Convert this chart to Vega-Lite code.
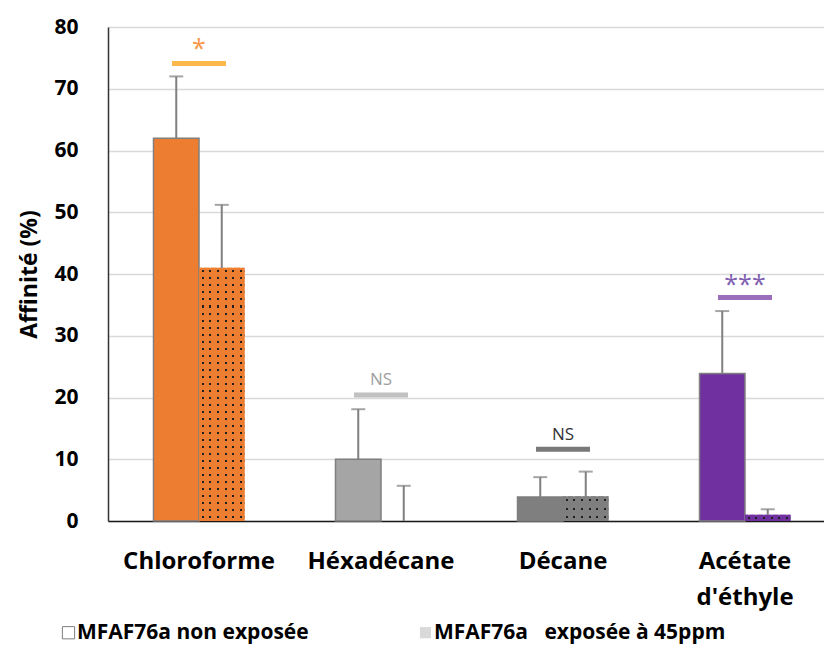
{
  "$schema": "https://vega.github.io/schema/vega-lite/v6.json",
  "width": 716,
  "height": 494,
  "autosize": {"type": "none"},
  "padding": {"left": 108, "top": 27, "right": 0, "bottom": 125},
  "background": "white",
  "config": {
    "view": {"stroke": null},
    "font": "Open Sans"
  },
  "datasets": {
    "barres": [
      {"solvant": "Chloroforme", "serie": "MFAF76a non exposée", "affinite": 62, "haut": 72},
      {"solvant": "Chloroforme", "serie": "MFAF76a  exposée à 45ppm", "affinite": 41, "haut": 51.2},
      {"solvant": "Héxadécane", "serie": "MFAF76a non exposée", "affinite": 10, "haut": 18.1},
      {"solvant": "Héxadécane", "serie": "MFAF76a  exposée à 45ppm", "affinite": 0, "haut": 5.7},
      {"solvant": "Décane", "serie": "MFAF76a non exposée", "affinite": 3.9, "haut": 7.1},
      {"solvant": "Décane", "serie": "MFAF76a  exposée à 45ppm", "affinite": 4, "haut": 8},
      {"solvant": "Acétate d'éthyle", "serie": "MFAF76a non exposée", "affinite": 23.9, "haut": 34},
      {"solvant": "Acétate d'éthyle", "serie": "MFAF76a  exposée à 45ppm", "affinite": 1, "haut": 1.9}
    ],
    "signif": [
      {"solvant": "Chloroforme", "niveau": 74.1, "texte": "*", "ytexte": 76.4},
      {"solvant": "Héxadécane", "niveau": 20.4, "texte": "NS", "ytexte": 22.9},
      {"solvant": "Décane", "niveau": 11.6, "texte": "NS", "ytexte": 14},
      {"solvant": "Acétate d'éthyle", "niveau": 36.2, "texte": "***", "ytexte": 38.2}
    ]
  },
  "encoding": {
    "x": {
      "field": "solvant",
      "type": "nominal",
      "scale": {
        "domain": ["Chloroforme", "Héxadécane", "Décane", "Acétate d'éthyle"],
        "range": [0, 728],
        "paddingInner": 0.5,
        "paddingOuter": 0.25
      },
      "axis": {
        "title": null,
        "labelAngle": 0,
        "labelExpr": "split(datum.label, ' ')",
        "labelFont": "Open Sans",
        "labelFontSize": 24,
        "labelFontWeight": "bold",
        "labelColor": "#000000",
        "labelLineHeight": 36,
        "labelPadding": 28,
        "labelBaseline": "top",
        "ticks": false,
        "domain": true,
        "domainColor": "#1a1a1a",
        "domainWidth": 1.5,
        "grid": false
      }
    }
  },
  "layer": [
    {
      "data": {"name": "barres"},
      "transform": [{"filter": "datum.serie === 'MFAF76a non exposée'"}],
      "mark": {"type": "bar", "stroke": "#7f7f7f", "strokeWidth": 1.5},
      "encoding": {
        "xOffset": {"field": "serie", "type": "nominal", "scale": {"domain": ["MFAF76a non exposée", "MFAF76a  exposée à 45ppm"], "paddingInner": 0, "paddingOuter": 0}},
        "y": {
          "field": "affinite",
          "type": "quantitative",
          "scale": {"domain": [0, 80], "nice": false},
          "axis": {
            "values": [0, 10, 20, 30, 40, 50, 60, 70, 80],
            "title": "Affinité (%)",
            "titleFont": "Open Sans",
            "titleFontSize": 23,
            "titleFontWeight": "bold",
            "titleColor": "#000000",
            "titlePadding": 12,
            "labelFont": "Open Sans",
            "labelFontSize": 21,
            "labelFontWeight": "bold",
            "labelColor": "#000000",
            "labelPadding": 30,
            "ticks": false,
            "domain": true,
            "domainColor": "#333333",
            "domainWidth": 1.5,
            "grid": true,
            "gridColor": "#d9d9d9",
            "gridWidth": 1.5
          }
        },
        "color": {
          "field": "solvant",
          "type": "nominal",
          "scale": {"domain": ["Chloroforme", "Héxadécane", "Décane", "Acétate d'éthyle"], "range": ["#ED7D31", "#A5A5A5", "#7F7F7F", "#7030A0"]},
          "legend": null
        }
      }
    },
    {
      "data": {"name": "barres"},
      "transform": [{"filter": "datum.serie !== 'MFAF76a non exposée'"}],
      "mark": {"type": "bar"},
      "encoding": {
        "xOffset": {"field": "serie", "type": "nominal", "scale": {"domain": ["MFAF76a non exposée", "MFAF76a  exposée à 45ppm"], "paddingInner": 0, "paddingOuter": 0}},
        "y": {"field": "affinite", "type": "quantitative"},
        "fill": {
          "condition": [
            {"test": "datum.solvant === 'Chloroforme'", "value": {"gradient": "linear", "x1": 0, "y1": 0, "x2": 0, "y2": 1, "stops": [
              {"offset": 0, "color": "#ED7D31"},
              {"offset": 0.0099, "color": "#ED7D31"}, {"offset": 0.0099, "color": "#202020"}, {"offset": 0.0179, "color": "#202020"}, {"offset": 0.0179, "color": "#ED7D31"},
              {"offset": 0.0377, "color": "#ED7D31"}, {"offset": 0.0377, "color": "#202020"}, {"offset": 0.0457, "color": "#202020"}, {"offset": 0.0457, "color": "#ED7D31"},
              {"offset": 0.0654, "color": "#ED7D31"}, {"offset": 0.0654, "color": "#202020"}, {"offset": 0.0734, "color": "#202020"}, {"offset": 0.0734, "color": "#ED7D31"},
              {"offset": 0.0932, "color": "#ED7D31"}, {"offset": 0.0932, "color": "#202020"}, {"offset": 0.1012, "color": "#202020"}, {"offset": 0.1012, "color": "#ED7D31"},
              {"offset": 0.121, "color": "#ED7D31"}, {"offset": 0.121, "color": "#202020"}, {"offset": 0.129, "color": "#202020"}, {"offset": 0.129, "color": "#ED7D31"},
              {"offset": 0.1488, "color": "#ED7D31"}, {"offset": 0.1488, "color": "#202020"}, {"offset": 0.1568, "color": "#202020"}, {"offset": 0.1568, "color": "#ED7D31"},
              {"offset": 0.1766, "color": "#ED7D31"}, {"offset": 0.1766, "color": "#202020"}, {"offset": 0.1846, "color": "#202020"}, {"offset": 0.1846, "color": "#ED7D31"},
              {"offset": 0.2043, "color": "#ED7D31"}, {"offset": 0.2043, "color": "#202020"}, {"offset": 0.2123, "color": "#202020"}, {"offset": 0.2123, "color": "#ED7D31"},
              {"offset": 0.2321, "color": "#ED7D31"}, {"offset": 0.2321, "color": "#202020"}, {"offset": 0.2401, "color": "#202020"}, {"offset": 0.2401, "color": "#ED7D31"},
              {"offset": 0.2599, "color": "#ED7D31"}, {"offset": 0.2599, "color": "#202020"}, {"offset": 0.2679, "color": "#202020"}, {"offset": 0.2679, "color": "#ED7D31"},
              {"offset": 0.2877, "color": "#ED7D31"}, {"offset": 0.2877, "color": "#202020"}, {"offset": 0.2957, "color": "#202020"}, {"offset": 0.2957, "color": "#ED7D31"},
              {"offset": 0.3154, "color": "#ED7D31"}, {"offset": 0.3154, "color": "#202020"}, {"offset": 0.3234, "color": "#202020"}, {"offset": 0.3234, "color": "#ED7D31"},
              {"offset": 0.3432, "color": "#ED7D31"}, {"offset": 0.3432, "color": "#202020"}, {"offset": 0.3512, "color": "#202020"}, {"offset": 0.3512, "color": "#ED7D31"},
              {"offset": 0.371, "color": "#ED7D31"}, {"offset": 0.371, "color": "#202020"}, {"offset": 0.379, "color": "#202020"}, {"offset": 0.379, "color": "#ED7D31"},
              {"offset": 0.3988, "color": "#ED7D31"}, {"offset": 0.3988, "color": "#202020"}, {"offset": 0.4068, "color": "#202020"}, {"offset": 0.4068, "color": "#ED7D31"},
              {"offset": 0.4266, "color": "#ED7D31"}, {"offset": 0.4266, "color": "#202020"}, {"offset": 0.4346, "color": "#202020"}, {"offset": 0.4346, "color": "#ED7D31"},
              {"offset": 0.4543, "color": "#ED7D31"}, {"offset": 0.4543, "color": "#202020"}, {"offset": 0.4623, "color": "#202020"}, {"offset": 0.4623, "color": "#ED7D31"},
              {"offset": 0.4821, "color": "#ED7D31"}, {"offset": 0.4821, "color": "#202020"}, {"offset": 0.4901, "color": "#202020"}, {"offset": 0.4901, "color": "#ED7D31"},
              {"offset": 0.5099, "color": "#ED7D31"}, {"offset": 0.5099, "color": "#202020"}, {"offset": 0.5179, "color": "#202020"}, {"offset": 0.5179, "color": "#ED7D31"},
              {"offset": 0.5377, "color": "#ED7D31"}, {"offset": 0.5377, "color": "#202020"}, {"offset": 0.5457, "color": "#202020"}, {"offset": 0.5457, "color": "#ED7D31"},
              {"offset": 0.5654, "color": "#ED7D31"}, {"offset": 0.5654, "color": "#202020"}, {"offset": 0.5734, "color": "#202020"}, {"offset": 0.5734, "color": "#ED7D31"},
              {"offset": 0.5932, "color": "#ED7D31"}, {"offset": 0.5932, "color": "#202020"}, {"offset": 0.6012, "color": "#202020"}, {"offset": 0.6012, "color": "#ED7D31"},
              {"offset": 0.621, "color": "#ED7D31"}, {"offset": 0.621, "color": "#202020"}, {"offset": 0.629, "color": "#202020"}, {"offset": 0.629, "color": "#ED7D31"},
              {"offset": 0.6488, "color": "#ED7D31"}, {"offset": 0.6488, "color": "#202020"}, {"offset": 0.6568, "color": "#202020"}, {"offset": 0.6568, "color": "#ED7D31"},
              {"offset": 0.6766, "color": "#ED7D31"}, {"offset": 0.6766, "color": "#202020"}, {"offset": 0.6846, "color": "#202020"}, {"offset": 0.6846, "color": "#ED7D31"},
              {"offset": 0.7043, "color": "#ED7D31"}, {"offset": 0.7043, "color": "#202020"}, {"offset": 0.7123, "color": "#202020"}, {"offset": 0.7123, "color": "#ED7D31"},
              {"offset": 0.7321, "color": "#ED7D31"}, {"offset": 0.7321, "color": "#202020"}, {"offset": 0.7401, "color": "#202020"}, {"offset": 0.7401, "color": "#ED7D31"},
              {"offset": 0.7599, "color": "#ED7D31"}, {"offset": 0.7599, "color": "#202020"}, {"offset": 0.7679, "color": "#202020"}, {"offset": 0.7679, "color": "#ED7D31"},
              {"offset": 0.7877, "color": "#ED7D31"}, {"offset": 0.7877, "color": "#202020"}, {"offset": 0.7957, "color": "#202020"}, {"offset": 0.7957, "color": "#ED7D31"},
              {"offset": 0.8154, "color": "#ED7D31"}, {"offset": 0.8154, "color": "#202020"}, {"offset": 0.8234, "color": "#202020"}, {"offset": 0.8234, "color": "#ED7D31"},
              {"offset": 0.8432, "color": "#ED7D31"}, {"offset": 0.8432, "color": "#202020"}, {"offset": 0.8512, "color": "#202020"}, {"offset": 0.8512, "color": "#ED7D31"},
              {"offset": 0.871, "color": "#ED7D31"}, {"offset": 0.871, "color": "#202020"}, {"offset": 0.879, "color": "#202020"}, {"offset": 0.879, "color": "#ED7D31"},
              {"offset": 0.8988, "color": "#ED7D31"}, {"offset": 0.8988, "color": "#202020"}, {"offset": 0.9068, "color": "#202020"}, {"offset": 0.9068, "color": "#ED7D31"},
              {"offset": 0.9266, "color": "#ED7D31"}, {"offset": 0.9266, "color": "#202020"}, {"offset": 0.9346, "color": "#202020"}, {"offset": 0.9346, "color": "#ED7D31"},
              {"offset": 0.9543, "color": "#ED7D31"}, {"offset": 0.9543, "color": "#202020"}, {"offset": 0.9623, "color": "#202020"}, {"offset": 0.9623, "color": "#ED7D31"},
              {"offset": 0.9821, "color": "#ED7D31"}, {"offset": 0.9821, "color": "#202020"}, {"offset": 0.9901, "color": "#202020"}, {"offset": 0.9901, "color": "#ED7D31"},
              {"offset": 1, "color": "#ED7D31"}
            ]}},
            {"test": "datum.solvant === 'Décane'", "value": {"gradient": "linear", "x1": 0, "y1": 0, "x2": 0, "y2": 1, "stops": [
              {"offset": 0, "color": "#7F7F7F"},
              {"offset": 0.1267, "color": "#7F7F7F"}, {"offset": 0.1267, "color": "#202020"}, {"offset": 0.2067, "color": "#202020"}, {"offset": 0.2067, "color": "#7F7F7F"},
              {"offset": 0.46, "color": "#7F7F7F"}, {"offset": 0.46, "color": "#202020"}, {"offset": 0.54, "color": "#202020"}, {"offset": 0.54, "color": "#7F7F7F"},
              {"offset": 0.7933, "color": "#7F7F7F"}, {"offset": 0.7933, "color": "#202020"}, {"offset": 0.8733, "color": "#202020"}, {"offset": 0.8733, "color": "#7F7F7F"},
              {"offset": 1, "color": "#7F7F7F"}
            ]}},
            {"test": "datum.solvant === 'Acétate d\\'éthyle'", "value": {"gradient": "linear", "x1": 0, "y1": 0, "x2": 0, "y2": 1, "stops": [
              {"offset": 0, "color": "#7030A0"},
              {"offset": 0.4, "color": "#7030A0"}, {"offset": 0.4, "color": "#202020"}, {"offset": 0.75, "color": "#202020"}, {"offset": 0.75, "color": "#7030A0"},
              {"offset": 1, "color": "#7030A0"}
            ]}}
          ],
          "value": "#A5A5A5"
        }
      }
    },
    {
      "data": {"name": "barres"},
      "transform": [{"filter": "datum.serie !== 'MFAF76a non exposée'"}],
      "mark": {"type": "bar"},
      "encoding": {
        "xOffset": {"field": "serie", "type": "nominal", "scale": {"domain": ["MFAF76a non exposée", "MFAF76a  exposée à 45ppm"], "paddingInner": 0, "paddingOuter": 0}},
        "y": {"field": "affinite", "type": "quantitative"},
        "fill": {
          "condition": [
            {"test": "datum.solvant === 'Chloroforme'", "value": {"gradient": "linear", "x1": 0, "y1": 0, "x2": 1, "y2": 0, "stops": [
              {"offset": 0, "color": "#ED7D31"},
              {"offset": 0.0613, "color": "#ED7D31"}, {"offset": 0.0613, "color": "rgba(237,125,49,0)"}, {"offset": 0.1053, "color": "rgba(237,125,49,0)"}, {"offset": 0.1053, "color": "#ED7D31"},
              {"offset": 0.228, "color": "#ED7D31"}, {"offset": 0.228, "color": "rgba(237,125,49,0)"}, {"offset": 0.272, "color": "rgba(237,125,49,0)"}, {"offset": 0.272, "color": "#ED7D31"},
              {"offset": 0.3947, "color": "#ED7D31"}, {"offset": 0.3947, "color": "rgba(237,125,49,0)"}, {"offset": 0.4387, "color": "rgba(237,125,49,0)"}, {"offset": 0.4387, "color": "#ED7D31"},
              {"offset": 0.5613, "color": "#ED7D31"}, {"offset": 0.5613, "color": "rgba(237,125,49,0)"}, {"offset": 0.6053, "color": "rgba(237,125,49,0)"}, {"offset": 0.6053, "color": "#ED7D31"},
              {"offset": 0.728, "color": "#ED7D31"}, {"offset": 0.728, "color": "rgba(237,125,49,0)"}, {"offset": 0.772, "color": "rgba(237,125,49,0)"}, {"offset": 0.772, "color": "#ED7D31"},
              {"offset": 0.8947, "color": "#ED7D31"}, {"offset": 0.8947, "color": "rgba(237,125,49,0)"}, {"offset": 0.9387, "color": "rgba(237,125,49,0)"}, {"offset": 0.9387, "color": "#ED7D31"},
              {"offset": 1, "color": "#ED7D31"}
            ]}},
            {"test": "datum.solvant === 'Décane'", "value": {"gradient": "linear", "x1": 0, "y1": 0, "x2": 1, "y2": 0, "stops": [
              {"offset": 0, "color": "#7F7F7F"},
              {"offset": 0.0613, "color": "#7F7F7F"}, {"offset": 0.0613, "color": "rgba(127,127,127,0)"}, {"offset": 0.1053, "color": "rgba(127,127,127,0)"}, {"offset": 0.1053, "color": "#7F7F7F"},
              {"offset": 0.228, "color": "#7F7F7F"}, {"offset": 0.228, "color": "rgba(127,127,127,0)"}, {"offset": 0.272, "color": "rgba(127,127,127,0)"}, {"offset": 0.272, "color": "#7F7F7F"},
              {"offset": 0.3947, "color": "#7F7F7F"}, {"offset": 0.3947, "color": "rgba(127,127,127,0)"}, {"offset": 0.4387, "color": "rgba(127,127,127,0)"}, {"offset": 0.4387, "color": "#7F7F7F"},
              {"offset": 0.5613, "color": "#7F7F7F"}, {"offset": 0.5613, "color": "rgba(127,127,127,0)"}, {"offset": 0.6053, "color": "rgba(127,127,127,0)"}, {"offset": 0.6053, "color": "#7F7F7F"},
              {"offset": 0.728, "color": "#7F7F7F"}, {"offset": 0.728, "color": "rgba(127,127,127,0)"}, {"offset": 0.772, "color": "rgba(127,127,127,0)"}, {"offset": 0.772, "color": "#7F7F7F"},
              {"offset": 0.8947, "color": "#7F7F7F"}, {"offset": 0.8947, "color": "rgba(127,127,127,0)"}, {"offset": 0.9387, "color": "rgba(127,127,127,0)"}, {"offset": 0.9387, "color": "#7F7F7F"},
              {"offset": 1, "color": "#7F7F7F"}
            ]}},
            {"test": "datum.solvant === 'Acétate d\\'éthyle'", "value": {"gradient": "linear", "x1": 0, "y1": 0, "x2": 1, "y2": 0, "stops": [
              {"offset": 0, "color": "#7030A0"},
              {"offset": 0.0613, "color": "#7030A0"}, {"offset": 0.0613, "color": "rgba(112,48,160,0)"}, {"offset": 0.1053, "color": "rgba(112,48,160,0)"}, {"offset": 0.1053, "color": "#7030A0"},
              {"offset": 0.228, "color": "#7030A0"}, {"offset": 0.228, "color": "rgba(112,48,160,0)"}, {"offset": 0.272, "color": "rgba(112,48,160,0)"}, {"offset": 0.272, "color": "#7030A0"},
              {"offset": 0.3947, "color": "#7030A0"}, {"offset": 0.3947, "color": "rgba(112,48,160,0)"}, {"offset": 0.4387, "color": "rgba(112,48,160,0)"}, {"offset": 0.4387, "color": "#7030A0"},
              {"offset": 0.5613, "color": "#7030A0"}, {"offset": 0.5613, "color": "rgba(112,48,160,0)"}, {"offset": 0.6053, "color": "rgba(112,48,160,0)"}, {"offset": 0.6053, "color": "#7030A0"},
              {"offset": 0.728, "color": "#7030A0"}, {"offset": 0.728, "color": "rgba(112,48,160,0)"}, {"offset": 0.772, "color": "rgba(112,48,160,0)"}, {"offset": 0.772, "color": "#7030A0"},
              {"offset": 0.8947, "color": "#7030A0"}, {"offset": 0.8947, "color": "rgba(112,48,160,0)"}, {"offset": 0.9387, "color": "rgba(112,48,160,0)"}, {"offset": 0.9387, "color": "#7030A0"},
              {"offset": 1, "color": "#7030A0"}
            ]}}
          ],
          "value": "#A5A5A5"
        }
      }
    },
    {
      "data": {"name": "barres"},
      "mark": {"type": "rule", "color": "#7f7f7f", "strokeWidth": 2},
      "encoding": {
        "xOffset": {"field": "serie", "type": "nominal", "scale": {"domain": ["MFAF76a non exposée", "MFAF76a  exposée à 45ppm"], "paddingInner": 0, "paddingOuter": 0}},
        "y": {"field": "affinite", "type": "quantitative"},
        "y2": {"field": "haut"},
        "opacity": {
          "field": "serie",
          "type": "nominal",
          "scale": {"domain": ["MFAF76a non exposée", "MFAF76a  exposée à 45ppm"], "range": [1, 1]},
          "legend": {
            "title": null,
            "orient": "none",
            "legendX": -50,
            "legendY": 595,
            "direction": "horizontal",
            "padding": 0,
            "symbolType": "square",
            "symbolSize": 150,
            "symbolStrokeWidth": 1,
            "symbolStrokeColor": "#7f7f7f",
            "symbolFillColor": "white",
            "symbolOpacity": 1,
            "labelFont": "Open Sans",
            "labelFontSize": 21,
            "labelFontWeight": "bold",
            "labelColor": "#000000",
            "labelOffset": -2,
            "labelLimit": 500,
            "labelExpr": "replace(datum.label, '  ', '\u00a0\u00a0\u00a0')",
            "columnPadding": 106,
            "encode": {
              "symbols": {
                "update": {
                  "fill": {"signal": "datum.value === 'MFAF76a non exposée' ? 'white' : '#d9d9d9'"},
                  "stroke": {"signal": "datum.value === 'MFAF76a non exposée' ? '#7f7f7f' : 'white'"}
                }
              }
            }
          }
        }
      }
    },
    {
      "data": {"name": "barres"},
      "mark": {"type": "tick", "color": "#7f7f7f", "size": 14, "thickness": 2, "orient": "horizontal"},
      "encoding": {
        "xOffset": {"field": "serie", "type": "nominal", "scale": {"domain": ["MFAF76a non exposée", "MFAF76a  exposée à 45ppm"], "paddingInner": 0, "paddingOuter": 0}},
        "y": {"field": "haut", "type": "quantitative"}
      }
    },
    {
      "data": {"name": "signif"},
      "mark": {"type": "tick", "size": 54, "thickness": 5, "orient": "horizontal"},
      "encoding": {
        "y": {"field": "niveau", "type": "quantitative"},
        "color": {
          "field": "solvant",
          "type": "nominal",
          "scale": {"domain": ["Chloroforme", "Héxadécane", "Décane", "Acétate d'éthyle"], "range": ["#FF9A00", "#A6A6A6", "#404040", "#7030A0"]},
          "legend": null
        }
      }
    },
    {
      "data": {"name": "signif"},
      "mark": {"type": "text", "font": "Open Sans", "baseline": "middle", "align": "center"},
      "encoding": {
        "y": {"field": "ytexte", "type": "quantitative"},
        "text": {"field": "texte"},
        "size": {"condition": {"test": "datum.texte === 'NS'", "value": 17}, "value": 25},
        "color": {
          "field": "solvant",
          "type": "nominal",
          "scale": {"domain": ["Chloroforme", "Héxadécane", "Décane", "Acétate d'éthyle"], "range": ["#F79646", "#A0A0A0", "#333333", "#8060B0"]},
          "legend": null
        }
      }
    }
  ],
  "resolve": {"scale": {"color": "independent"}}
}
